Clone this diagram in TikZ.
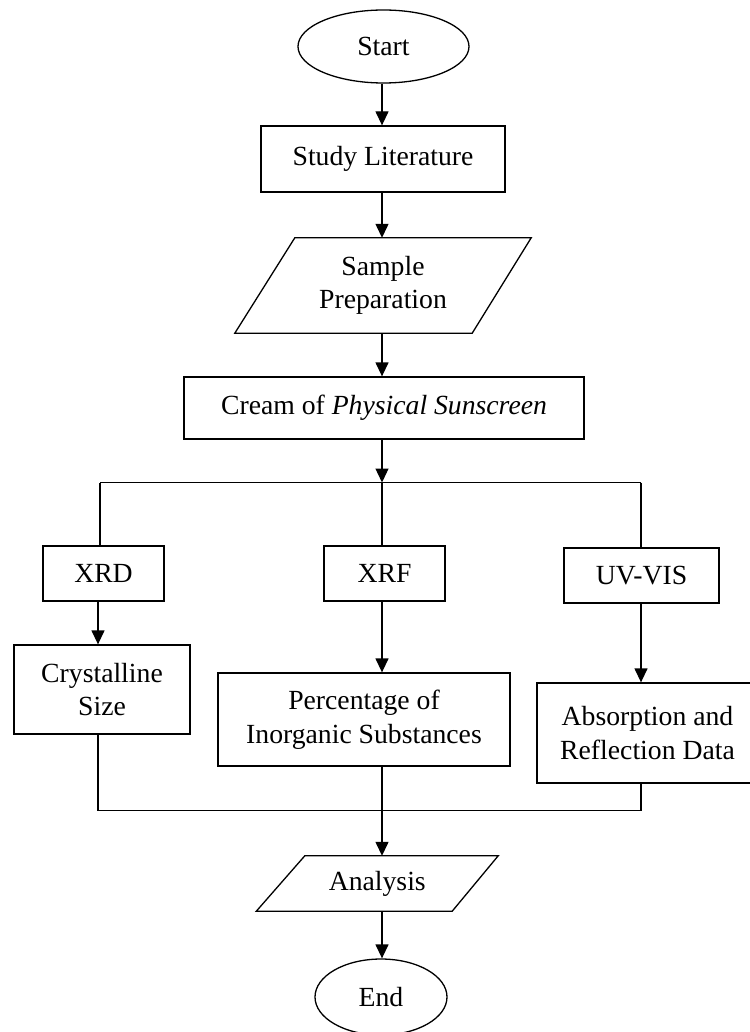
\documentclass[tikz,border=0pt]{standalone}
\usepackage{fontspec}
\setmainfont{Liberation Serif}
\usetikzlibrary{arrows.meta,shapes.geometric,calc}
\begin{document}
\begin{tikzpicture}[x=1pt,y=-1pt,
  every node/.style={font=\fontsize{27.7}{33.5}\selectfont, align=center, inner sep=0pt},
  box/.style={draw, line width=1.3pt, rectangle},
  oval/.style={draw, line width=1.3pt, ellipse},
  para/.style={rectangle},
  conn/.style={line width=1.3pt},
  arr/.style={line width=1.3pt, -{Triangle[length=14pt,width=13pt]}}
]
\useasboundingbox (0,0) rectangle (749,1032);
% nodes
\node[oval, minimum width=171pt, minimum height=73pt] (start) at (383.5,46.5) {Start};
\node[box, minimum width=244pt, minimum height=66pt] (study) at (383,159) {Study Literature};
\node[para, minimum width=296pt, minimum height=95pt] (prep) at (383,285.5) {Sample\\Preparation};
\draw[conn] ($(prep.north west)+(60,0)$) -- (prep.north east) -- ($(prep.south east)-(59,0)$) -- (prep.south west) -- cycle;
\node[box, minimum width=400pt, minimum height=62pt] (cream) at (384,408) {Cream of \textit{Physical Sunscreen}};
\node[box, minimum width=121pt, minimum height=55pt] (xrd) at (103.5,573.5) {XRD};
\node[box, minimum width=121pt, minimum height=55pt] (xrf) at (384.5,573.5) {XRF};
\node[box, minimum width=155pt, minimum height=55pt] (uv) at (641.5,575.5) {UV-VIS};
\node[box, minimum width=176pt, minimum height=89pt] (cryst) at (102,689.5) {Crystalline\\Size};
\node[box, minimum width=292pt, minimum height=93pt] (perc) at (364,719.5) {Percentage of\\Inorganic Substances};
\node[box, minimum width=221pt, minimum height=100pt] (abs) at (647.5,733) {Absorption and\\Reflection Data};
\node[para, minimum width=241.5pt, minimum height=55pt] (ana) at (377.25,883.5) {Analysis};
\draw[conn] ($(ana.north west)+(48.5,0)$) -- (ana.north east) -- ($(ana.south east)-(46,0)$) -- (ana.south west) -- cycle;
\node[oval, minimum width=132pt, minimum height=76pt] (end) at (381,997) {End};
% column and junction coordinates
\coordinate (col) at (382,0);
\coordinate (jl) at (100,482.5);
\coordinate (jm) at (382,482.5);
\coordinate (jr) at (641,482.5);
\coordinate (bl) at (98,810.5);
\coordinate (bm) at (382,810.5);
\coordinate (br) at (641,810.5);
% connectors
\draw[arr] (start.south -| col) -- (study.north -| col);
\draw[arr] (study.south -| col) -- (prep.north -| col);
\draw[arr] (prep.south -| col) -- (cream.north -| col);
\draw[arr] (cream.south -| jm) -- (jm);
\draw[conn] (jl) -- (jr);
\draw[conn] (jl) -- (jl |- xrd.north);
\draw[conn] (jm) -- (jm |- xrf.north);
\draw[conn] (jr) -- (jr |- uv.north);
\draw[arr] (xrd.south -| bl) -- (cryst.north -| bl);
\draw[arr] (xrf.south -| jm) -- (perc.north -| jm);
\draw[arr] (uv.south -| jr) -- (abs.north -| jr);
\draw[conn] (cryst.south -| bl) -- (bl) -- (br) -- (abs.south -| br);
\draw[arr] (perc.south -| bm) -- (ana.north -| bm);
\draw[arr] (ana.south -| bm) -- (end.north -| bm);
\end{tikzpicture}
\end{document}
